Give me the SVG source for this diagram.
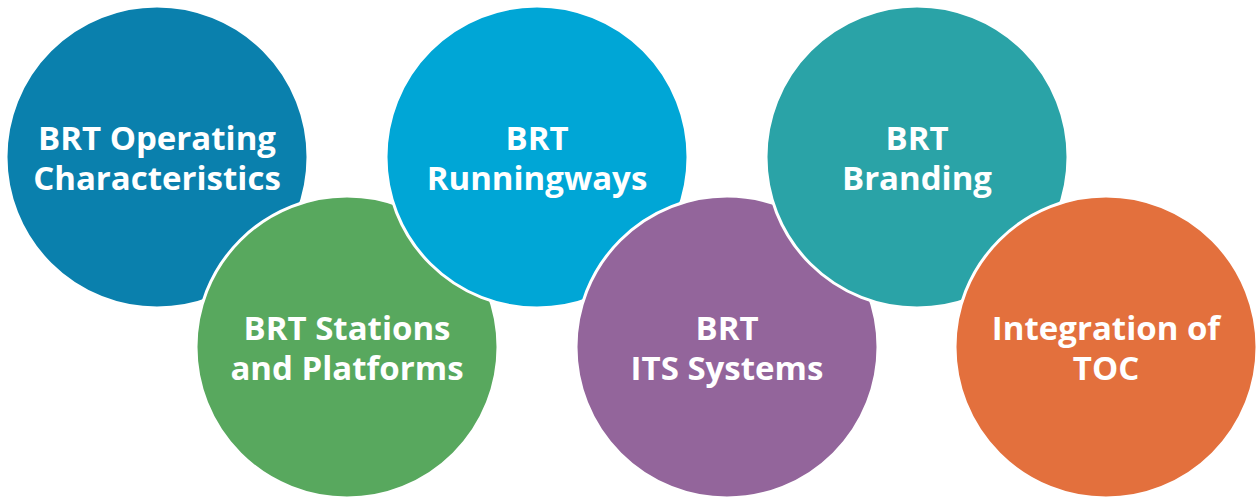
<svg xmlns="http://www.w3.org/2000/svg" width="1258" height="499" viewBox="0 0 1258 499">
<style>
.c{stroke:#ffffff;stroke-width:3}
.t{font-family:"Open Sans","Noto Sans",sans-serif;font-weight:bold;font-size:33px;fill:#ffffff;text-anchor:middle}
</style>
<rect width="1258" height="499" fill="#ffffff"/>
<g id="node-operating">
<circle class="c" cx="157" cy="157" r="151" fill="#0a80ad"/>
<text class="t" x="157" y="150">BRT Operating</text>
<text class="t" x="157" y="190">Characteristics</text>
</g>
<g id="node-stations">
<circle class="c" cx="347" cy="347" r="151" fill="#58a85e"/>
<text class="t" x="347" y="340">BRT Stations</text>
<text class="t" x="347" y="380">and Platforms</text>
</g>
<g id="node-runningways">
<circle class="c" cx="537" cy="157" r="151" fill="#00a6d6"/>
<text class="t" x="537" y="150">BRT</text>
<text class="t" x="537" y="190">Runningways</text>
</g>
<g id="node-its">
<circle class="c" cx="727" cy="347" r="151" fill="#93659b"/>
<text class="t" x="727" y="340">BRT</text>
<text class="t" x="727" y="380">ITS Systems</text>
</g>
<g id="node-branding">
<circle class="c" cx="917" cy="157" r="151" fill="#2aa3a7"/>
<text class="t" x="917" y="150">BRT</text>
<text class="t" x="917" y="190">Branding</text>
</g>
<g id="node-toc">
<circle class="c" cx="1106" cy="347" r="151" fill="#e3703d"/>
<text class="t" x="1106" y="340">Integration of</text>
<text class="t" x="1106" y="380">TOC</text>
</g>
<g id="connectors"></g>
</svg>
